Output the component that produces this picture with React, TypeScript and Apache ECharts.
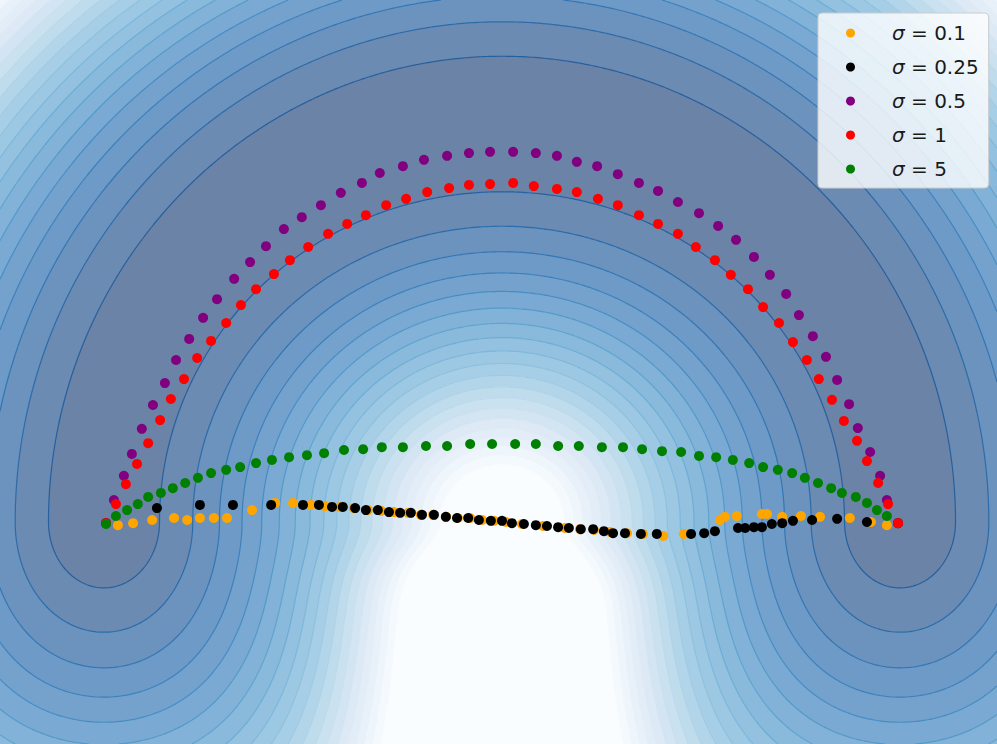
import React, { useEffect, useRef } from "react";
import * as echarts from "echarts";

// ---- plot extent (data units: the two minima sit at x = ±1, y = 0) ----
const X_MIN = -1.2613;
const X_MAX = 1.2437;
const Y_MIN = -0.5578;
const Y_MAX = 1.3116;

// ---- contour levels of the potential ----
const LEVELS = [
  0.029, 0.066, 0.103, 0.14, 0.177, 0.214, 0.251, 0.288, 0.325, 0.362,
  0.399, 0.436, 0.473, 0.51, 0.547, 0.584, 0.621, 0.658, 0.695, 0.732,
];

// ---- potential parameters ----
const WELL_DEPTH = 0.02;
const WELL_WIDTH2 = 0.03;
const FLOOR_K = 0.62;
const FLOOR_W = 0.8;
const RIDGE_HEIGHT = 0.31;
const RIDGE_WIDTH2 = 0.1;
const RIDGE_ONSET2 = 0.015;

function potential(u: number, v: number): number {
  const au = Math.abs(u);
  if (v >= 0) {
    const r = Math.hypot(u, v);
    const d = r - 1;
    const c2 = r > 1e-9 ? (u * u) / (r * r) : 0;
    return d * d + WELL_DEPTH * c2 * (1 - Math.exp((-d * d) / WELL_WIDTH2));
  }
  const du = au - 1;
  const k = FLOOR_K * Math.exp((-du * du) / FLOOR_W);
  const ridge = RIDGE_HEIGHT * Math.exp((-u * u) / RIDGE_WIDTH2) * (1 - Math.exp((-v * v) / RIDGE_ONSET2));
  return du * du + k * v * v + ridge + WELL_DEPTH * (1 - Math.exp(-(du * du + v * v) / WELL_WIDTH2));
}

// ---- series ----
const SERIES_NAMES = ["σ = 0.1", "σ = 0.25", "σ = 0.5", "σ = 1", "σ = 5"];
const SERIES_COLORS = ["#FFA500", "#000000", "#800080", "#FF0000", "#008000"];

const sigma01 = [
  [-0.995, -0.003], [-0.965, -0.008], [-0.927, -0.003], [-0.879, 0.005], [-0.824, 0.01],
  [-0.791, 0.005], [-0.759, 0.01], [-0.724, 0.01], [-0.691, 0.01], [-0.628, 0.03],
  [-0.57, 0.048], [-0.525, 0.048], [-0.48, 0.043], [-0.445, 0.04], [-0.407, 0.038],
  [-0.372, 0.035], [-0.337, 0.03], [-0.304, 0.028], [-0.271, 0.025], [-0.236, 0.023],
  [-0.204, 0.018], [-0.173, 0.018], [-0.141, 0.013], [-0.111, 0.01], [-0.08, 0.01],
  [-0.05, 0.005], [-0.02, 0.003], [0.01, 0.0], [0.05, -0.005], [0.103, -0.01],
  [0.158, -0.015], [0.196, -0.018], [0.231, -0.02], [0.271, -0.025], [0.314, -0.028],
  [0.354, -0.03], [0.405, -0.035], [0.457, -0.03], [0.548, 0.005], [0.56, 0.013],
  [0.59, 0.015], [0.653, 0.02], [0.666, 0.02], [0.704, 0.013], [0.751, 0.015],
  [0.799, 0.013], [0.874, 0.01], [0.927, 0.0], [0.967, -0.008], [0.995, -0.003],
];

const sigma025 = [
  [-0.995, -0.003], [-0.867, 0.035], [-0.759, 0.043], [-0.676, 0.043], [-0.58, 0.043],
  [-0.5, 0.043], [-0.46, 0.043], [-0.427, 0.038], [-0.4, 0.038], [-0.369, 0.035],
  [-0.342, 0.03], [-0.312, 0.03], [-0.284, 0.025], [-0.256, 0.023], [-0.229, 0.023],
  [-0.201, 0.018], [-0.171, 0.018], [-0.141, 0.013], [-0.113, 0.01], [-0.085, 0.01],
  [-0.058, 0.005], [-0.028, 0.003], [0.0, 0.003], [0.025, -0.003], [0.055, -0.005],
  [0.085, -0.008], [0.113, -0.01], [0.141, -0.013], [0.168, -0.015], [0.198, -0.018],
  [0.229, -0.018], [0.256, -0.023], [0.279, -0.028], [0.309, -0.028], [0.349, -0.03],
  [0.389, -0.03], [0.475, -0.03], [0.508, -0.028], [0.535, -0.023], [0.593, -0.015],
  [0.611, -0.015], [0.633, -0.013], [0.653, -0.013], [0.678, -0.005], [0.704, -0.003],
  [0.731, 0.003], [0.779, 0.005], [0.842, 0.008], [0.917, 0.0], [0.995, -0.003],
];

const sigma05 = [
  [-0.995, -0.003], [-0.975, 0.055], [-0.95, 0.116], [-0.93, 0.171], [-0.905, 0.234],
  [-0.877, 0.294], [-0.847, 0.349], [-0.819, 0.407], [-0.786, 0.46], [-0.751, 0.513],
  [-0.716, 0.56], [-0.673, 0.611], [-0.633, 0.653], [-0.593, 0.693], [-0.548, 0.736],
  [-0.503, 0.766], [-0.455, 0.796], [-0.405, 0.827], [-0.352, 0.852], [-0.307, 0.877],
  [-0.249, 0.894], [-0.196, 0.91], [-0.138, 0.92], [-0.083, 0.927], [-0.03, 0.93],
  [0.028, 0.93], [0.085, 0.927], [0.138, 0.92], [0.188, 0.905], [0.239, 0.894],
  [0.291, 0.874], [0.344, 0.852], [0.392, 0.832], [0.442, 0.804], [0.495, 0.776],
  [0.543, 0.744], [0.588, 0.709], [0.633, 0.666], [0.673, 0.621], [0.714, 0.573],
  [0.746, 0.52], [0.781, 0.467], [0.814, 0.415], [0.842, 0.357], [0.872, 0.296],
  [0.894, 0.236], [0.925, 0.176], [0.95, 0.116], [0.967, 0.055], [0.995, -0.003],
];

const sigma1 = [
  [-0.995, -0.003], [-0.97, 0.045], [-0.945, 0.095], [-0.917, 0.146], [-0.889, 0.198],
  [-0.859, 0.256], [-0.832, 0.309], [-0.799, 0.359], [-0.766, 0.412], [-0.731, 0.455],
  [-0.693, 0.5], [-0.656, 0.545], [-0.618, 0.585], [-0.573, 0.623], [-0.533, 0.658],
  [-0.487, 0.691], [-0.437, 0.724], [-0.389, 0.749], [-0.342, 0.771], [-0.291, 0.796],
  [-0.241, 0.812], [-0.188, 0.829], [-0.133, 0.839], [-0.083, 0.847], [-0.03, 0.849],
  [0.028, 0.852], [0.08, 0.844], [0.138, 0.837], [0.188, 0.829], [0.241, 0.812],
  [0.291, 0.796], [0.344, 0.771], [0.392, 0.749], [0.442, 0.724], [0.487, 0.691],
  [0.535, 0.658], [0.575, 0.621], [0.618, 0.585], [0.656, 0.54], [0.696, 0.5],
  [0.731, 0.452], [0.766, 0.407], [0.796, 0.359], [0.829, 0.307], [0.859, 0.254],
  [0.892, 0.204], [0.917, 0.153], [0.945, 0.098], [0.97, 0.045], [0.995, -0.003],
];

const sigma5 = [
  [-0.995, -0.005], [-0.97, 0.015], [-0.942, 0.03], [-0.915, 0.045], [-0.889, 0.063],
  [-0.857, 0.073], [-0.827, 0.085], [-0.796, 0.098], [-0.764, 0.111], [-0.731, 0.123],
  [-0.693, 0.131], [-0.658, 0.138], [-0.618, 0.148], [-0.578, 0.156], [-0.535, 0.163],
  [-0.49, 0.168], [-0.447, 0.173], [-0.397, 0.181], [-0.349, 0.183], [-0.302, 0.188],
  [-0.249, 0.188], [-0.191, 0.191], [-0.138, 0.191], [-0.08, 0.196], [-0.025, 0.196],
  [0.033, 0.196], [0.085, 0.196], [0.141, 0.191], [0.193, 0.191], [0.251, 0.188],
  [0.304, 0.188], [0.352, 0.183], [0.402, 0.178], [0.45, 0.176], [0.495, 0.166],
  [0.538, 0.163], [0.58, 0.156], [0.621, 0.148], [0.656, 0.138], [0.693, 0.131],
  [0.729, 0.123], [0.761, 0.111], [0.794, 0.098], [0.827, 0.085], [0.854, 0.073],
  [0.889, 0.063], [0.917, 0.048], [0.942, 0.03], [0.967, 0.015],
];

const SERIES_DATA = [sigma01, sigma025, sigma05, sigma1, sigma5];

// ---- colour map (matplotlib "Blues") ----
const BLUES = ["#f7fbff", "#deebf7", "#c6dbef", "#9ecae1", "#6baed6", "#4292c6", "#2171b5", "#08519c", "#08306b"];

function hexToRgb(h: string): number[] {
  return [parseInt(h.slice(1, 3), 16), parseInt(h.slice(3, 5), 16), parseInt(h.slice(5, 7), 16)];
}
const BLUES_RGB = BLUES.map(hexToRgb);

function blues(t: number): number[] {
  const tt = Math.max(0, Math.min(1, t));
  const p = tt * 8;
  const i = Math.min(7, Math.floor(p));
  const f = p - i;
  const a = BLUES_RGB[i];
  const b = BLUES_RGB[i + 1];
  return [a[0] + (b[0] - a[0]) * f, a[1] + (b[1] - a[1]) * f, a[2] + (b[2] - a[2]) * f];
}
function overWhite(c: number[], alpha: number): string {
  const m = (x: number) => Math.round(alpha * x + (1 - alpha) * 255);
  return `rgb(${m(c[0])},${m(c[1])},${m(c[2])})`;
}
function rgbStr(c: number[]): string {
  return `rgb(${Math.round(c[0])},${Math.round(c[1])},${Math.round(c[2])})`;
}

const NB = LEVELS.length; // 20 -> 21 bands
const BAND_COLORS = Array.from({ length: NB + 1 }, (_, i) => overWhite(blues(1 - i / NB), 0.6));
const LINE_COLORS = LEVELS.map((_, k) => rgbStr(blues(0.88 - k / NB)));

function bandOf(val: number): number {
  let b = 0;
  while (b < NB && val >= LEVELS[b]) b++;
  return b;
}

function buildBackground(): number[][] {
  const NX = 997;
  const NY = 372;
  const dx = (X_MAX - X_MIN) / NX;
  const dy = (Y_MAX - Y_MIN) / NY;
  const runs: number[][] = [];
  for (let j = 0; j < NY; j++) {
    const yTop = Y_MAX - j * dy;
    const yBot = yTop - dy;
    const yc = yTop - dy / 2;
    let start = 0;
    let cur = bandOf(potential(X_MIN + 0.5 * dx, yc));
    for (let i = 1; i <= NX; i++) {
      const b = i < NX ? bandOf(potential(X_MIN + (i + 0.5) * dx, yc)) : -1;
      if (b !== cur) {
        runs.push([X_MIN + start * dx, X_MIN + i * dx, yTop, yBot, cur]);
        start = i;
        cur = b;
      }
    }
  }
  return runs;
}

type Chain = { pts: number[][]; level: number };

function buildContours(): Chain[] {
  const NX = 333;
  const NY = 249;
  const xs: number[] = [];
  const ys: number[] = [];
  for (let i = 0; i < NX; i++) xs.push(X_MIN + (i * (X_MAX - X_MIN)) / (NX - 1));
  for (let j = 0; j < NY; j++) ys.push(Y_MIN + (j * (Y_MAX - Y_MIN)) / (NY - 1));
  const g = new Float64Array(NX * NY);
  for (let j = 0; j < NY; j++) for (let i = 0; i < NX; i++) g[j * NX + i] = potential(xs[i], ys[j]);

  const chains: Chain[] = [];
  LEVELS.forEach((L, k) => {
    const adj = new Map<number, number[]>();
    const link = (p: number, q: number) => {
      if (!adj.has(p)) adj.set(p, []);
      if (!adj.has(q)) adj.set(q, []);
      adj.get(p)!.push(q);
      adj.get(q)!.push(p);
    };
    const H = (i: number, j: number) => (j * NX + i) * 2;
    const V = (i: number, j: number) => (j * NX + i) * 2 + 1;
    for (let j = 0; j < NY - 1; j++) {
      for (let i = 0; i < NX - 1; i++) {
        const a = g[j * NX + i];
        const b = g[j * NX + i + 1];
        const c = g[(j + 1) * NX + i + 1];
        const d = g[(j + 1) * NX + i];
        const code = (a >= L ? 1 : 0) | (b >= L ? 2 : 0) | (c >= L ? 4 : 0) | (d >= L ? 8 : 0);
        if (code === 0 || code === 15) continue;
        const e0 = H(i, j);
        const e1 = V(i + 1, j);
        const e2 = H(i, j + 1);
        const e3 = V(i, j);
        switch (code) {
          case 1: case 14: link(e3, e0); break;
          case 2: case 13: link(e0, e1); break;
          case 3: case 12: link(e3, e1); break;
          case 4: case 11: link(e1, e2); break;
          case 6: case 9: link(e0, e2); break;
          case 7: case 8: link(e2, e3); break;
          case 5: {
            const ctr = (a + b + c + d) / 4;
            if (ctr >= L) { link(e0, e1); link(e2, e3); } else { link(e3, e0); link(e1, e2); }
            break;
          }
          case 10: {
            const ctr = (a + b + c + d) / 4;
            if (ctr >= L) { link(e3, e0); link(e1, e2); } else { link(e0, e1); link(e2, e3); }
            break;
          }
        }
      }
    }
    const point = (id: number): number[] => {
      const cell = Math.floor(id / 2);
      const i = cell % NX;
      const j = Math.floor(cell / NX);
      if (id % 2 === 0) {
        const g0 = g[j * NX + i];
        const g1 = g[j * NX + i + 1];
        const t = (L - g0) / (g1 - g0);
        return [xs[i] + t * (xs[i + 1] - xs[i]), ys[j]];
      }
      const g0 = g[j * NX + i];
      const g1 = g[(j + 1) * NX + i];
      const t = (L - g0) / (g1 - g0);
      return [xs[i], ys[j] + t * (ys[j + 1] - ys[j])];
    };
    const walk = (start: number): number[] => {
      const chain = [start];
      let cur = start;
      for (;;) {
        const list = adj.get(cur);
        if (!list || list.length === 0) break;
        const nxt = list.pop()!;
        const l2 = adj.get(nxt)!;
        const idx = l2.indexOf(cur);
        if (idx >= 0) l2.splice(idx, 1);
        chain.push(nxt);
        cur = nxt;
        if (nxt === start) break;
      }
      return chain;
    };
    adj.forEach((list, id) => {
      if (list.length === 1) chains.push({ pts: walk(id).map(point), level: k });
    });
    adj.forEach((list, id) => {
      if (list.length > 0) chains.push({ pts: walk(id).map(point), level: k });
    });
  });
  return chains;
}

export default function App() {
  const ref = useRef<HTMLDivElement | null>(null);

  useEffect(() => {
    if (!ref.current) return;
    const chart = echarts.init(ref.current, undefined, { renderer: "svg" });

    const runs = buildBackground();
    const chains = buildContours();
    const lineData = chains.map((c, idx) => [c.pts[0][0], c.pts[0][1], idx]);

    const option: any = {
      animation: false,
      backgroundColor: "#ffffff",
      grid: { left: 0, right: 0, top: 0, bottom: 0, containLabel: false },
      xAxis: { type: "value", min: X_MIN, max: X_MAX, show: false },
      yAxis: { type: "value", min: Y_MIN, max: Y_MAX, show: false },
      legend: {
        data: SERIES_NAMES,
        orient: "vertical",
        left: 818,
        top: 13,
        icon: "circle",
        itemWidth: 9,
        itemHeight: 9,
        itemGap: 14,
        padding: [10, 10, 9, 28],
        backgroundColor: "rgba(255,255,255,0.8)",
        borderColor: "#cccccc",
        borderWidth: 1,
        borderRadius: 4,
        selectedMode: false,
        formatter: (name: string) => `{gap|}{sig|σ}{rest|${name.slice(1)}}`,
        textStyle: {
          fontFamily: "DejaVu Sans",
          fontSize: 20,
          lineHeight: 20,
          color: "#1a1a1a",
          rich: {
            gap: { width: 32 },
            sig: { fontFamily: "DejaVu Sans", fontStyle: "italic", fontSize: 20, lineHeight: 20, color: "#1a1a1a" },
            rest: { fontFamily: "DejaVu Sans", fontSize: 20, lineHeight: 20, color: "#1a1a1a" },
          },
        },
      },
      series: [
        {
          type: "custom",
          silent: true,
          z: 1,
          data: runs,
          encode: { x: [0, 1], y: [2, 3] },
          renderItem: (_params: any, api: any) => {
            const p0 = api.coord([api.value(0), api.value(2)]);
            const p1 = api.coord([api.value(1), api.value(3)]);
            return {
              type: "rect",
              shape: { x: p0[0], y: p0[1], width: p1[0] - p0[0] + 0.6, height: p1[1] - p0[1] + 0.6 },
              style: { fill: BAND_COLORS[api.value(4)] },
            };
          },
        },
        {
          type: "custom",
          silent: true,
          z: 2,
          data: lineData,
          encode: { x: 0, y: 1 },
          renderItem: (_params: any, api: any) => {
            const ch = chains[api.value(2)];
            const pts = ch.pts.map((p) => api.coord(p));
            return {
              type: "polyline",
              shape: { points: pts },
              style: { stroke: LINE_COLORS[ch.level], lineWidth: 1.2, fill: "none", opacity: 0.7 },
            };
          },
        },
        ...SERIES_DATA.map((d, i) => ({
          type: "scatter",
          name: SERIES_NAMES[i],
          data: d,
          symbol: "circle",
          symbolSize: 10,
          z: 3 + i,
          itemStyle: { color: SERIES_COLORS[i], opacity: 1 },
          emphasis: { disabled: true },
        })),
      ],
    };
    chart.setOption(option);
    return () => chart.dispose();
  }, []);

  return (
    <div
      ref={ref}
      style={{ position: "absolute", left: 0, top: 0, width: 997, height: 744 }}
    />
  );
}
